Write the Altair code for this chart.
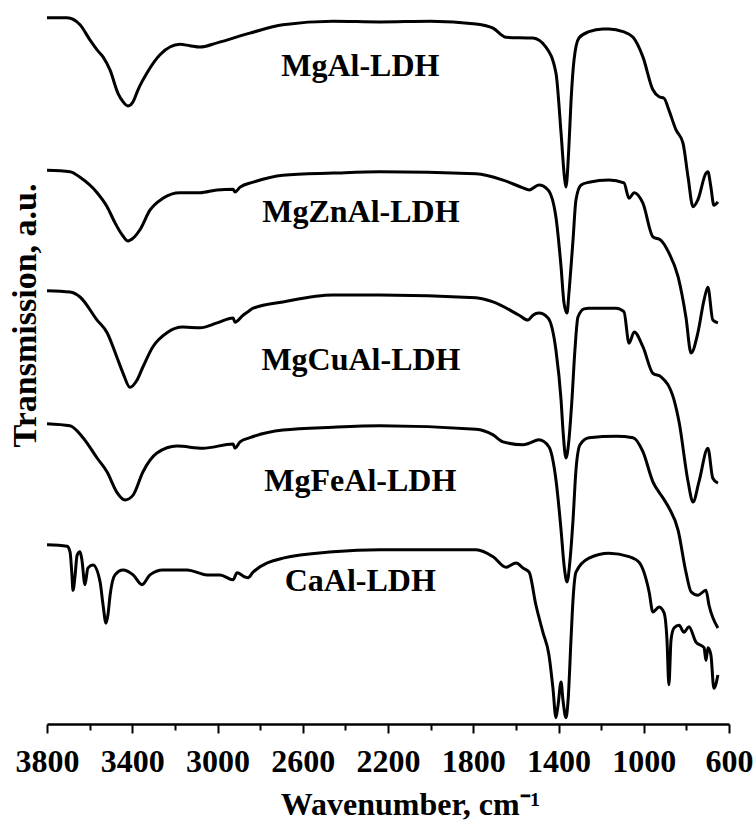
import altair as alt
import pandas as pd

# ---- data ----
series_names = ["MgAl-LDH", "MgZnAl-LDH", "MgCuAl-LDH", "MgFeAl-LDH", "CaAl-LDH"]

mgal_wn = [3800, 3706, 3645, 3598, 3565, 3537, 3504, 3467, 3443, 3420, 3396, 3373, 3331, 3270, 3176,
           3130, 3082, 3002, 2848, 2693, 2458, 2238, 2000, 1787, 1707, 1646, 1520, 1459, 1412, 1388,
           1372, 1365, 1352, 1341, 1327, 1304, 1257, 1191, 1163, 1097, 1050, 1004, 957, 928, 905, 882, 849,
           816, 792, 769, 746, 708, 699, 685, 671, 652]
mgal_t = [100.9, 100.9, 99.9, 97.7, 96.3, 95.3, 93.4, 90.1, 88.9, 88.3, 88.9, 90.6, 93.0, 95.6, 97.1,
          96.9, 96.7, 97.3, 98.7, 99.9, 100.4, 100.3, 100.4, 100.0, 99.4, 98.1, 98.0, 96.7, 93.0, 84.4,
          78.1, 76.7, 82.0, 89.1, 94.9, 98.0, 98.9, 99.3, 99.3, 98.9, 98.1, 95.3, 90.6, 89.6, 89.4, 87.7, 84.9,
          83.0, 78.1, 73.9, 74.9, 78.7, 78.9, 76.7, 74.1, 74.6]

mgznal_wn = [3800, 3692, 3645, 3565, 3518, 3481, 3448, 3420, 3396, 3364, 3317, 3256, 3176, 3082, 3002,
             2927, 2918, 2894, 2833, 2693, 2458, 2238, 1787, 1660, 1567, 1538, 1492, 1449, 1412, 1388,
             1374, 1360, 1351, 1332, 1318, 1294, 1257, 1163, 1093, 1069, 1045, 1004, 957, 919, 882, 839,
             802, 778, 746, 717, 699, 676, 652]
mgznal_t = [79.1, 78.9, 78.1, 75.9, 73.9, 71.6, 69.9, 69.0, 69.4, 70.6, 73.4, 75.1, 75.9, 75.9, 76.3,
            76.4, 76.0, 76.7, 77.4, 78.4, 78.7, 78.9, 78.6, 77.7, 76.6, 76.3, 77.0, 76.3, 72.4, 65.3,
            60.1, 58.7, 61.6, 69.1, 74.9, 77.0, 77.4, 77.7, 77.3, 75.1, 75.9, 74.4, 69.6, 69.1, 67.3, 63.9,
            58.1, 53.0, 55.9, 60.6, 62.4, 57.7, 57.3]

mgcual_wn = [3800, 3692, 3645, 3565, 3518, 3472, 3443, 3411, 3378, 3350, 3303, 3237, 3162, 3082, 3002,
             2927, 2918, 2880, 2857, 2833, 2693, 2458, 2238, 1787, 1707, 1585, 1543, 1520, 1492, 1449,
             1412, 1388, 1379, 1365, 1351, 1337, 1323, 1309, 1280, 1257, 1130, 1093, 1069, 1045, 1004,
             957, 919, 858, 834, 792, 769, 741, 699, 676, 652]
mgcual_t = [61.9, 61.7, 61.0, 57.7, 55.9, 52.4, 50.1, 48.1, 49.1, 51.0, 53.9, 55.9, 56.7, 56.6, 57.3,
            58.0, 57.4, 58.4, 58.9, 59.4, 60.3, 61.3, 61.3, 60.9, 60.3, 58.4, 57.7, 58.4, 58.7, 58.0,
            53.4, 46.3, 42.0, 38.0, 40.6, 46.3, 53.4, 58.1, 59.3, 59.4, 59.4, 58.9, 54.4, 56.0, 53.9,
            50.1, 49.6, 46.3, 43.1, 34.6, 31.7, 34.6, 39.4, 35.1, 34.4]

mgfeal_wn = [3800, 3692, 3631, 3565, 3518, 3472, 3434, 3396, 3350, 3284, 3190, 3068, 2927, 2918, 2894,
             2848, 2693, 2458, 2238, 1787, 1707, 1660, 1567, 1538, 1492, 1445, 1412, 1388, 1374, 1360,
             1346, 1332, 1318, 1299, 1257, 1130, 1050, 1004, 957, 910, 882, 839, 802, 778, 746, 708,
             694, 652]
mgfeal_t = [42.9, 42.6, 40.9, 38.0, 36.0, 33.1, 32.0, 32.7, 36.0, 38.7, 39.7, 39.4, 40.0, 39.4, 40.3,
            40.9, 42.0, 42.4, 42.6, 42.1, 41.3, 40.3, 39.9, 40.1, 40.6, 39.6, 34.9, 27.7, 22.7, 20.3,
            23.4, 29.1, 36.3, 39.9, 40.9, 41.1, 40.9, 38.9, 34.6, 32.3, 30.9, 27.7, 21.7, 18.9, 18.4, 19.1,
            17.0, 13.7]

caal_wn = [3800, 3706, 3692, 3683, 3678, 3668, 3659, 3645, 3636, 3622, 3608, 3584, 3551, 3537, 3523,
           3514, 3504, 3481, 3443, 3396, 3354, 3317, 3256, 3143, 3049, 2988, 2927, 2908, 2871, 2857,
           2833, 2693, 2458, 2238, 1787, 1707, 1646, 1599, 1567, 1538, 1506, 1473, 1445, 1426, 1412,
           1402, 1388, 1379, 1365, 1355, 1341, 1332, 1318, 1257, 1163, 1069, 1022, 975, 957, 928, 905,
           891, 882, 872, 858, 834, 811, 788, 755, 717, 708, 699, 685, 671, 652]
caal_t = [25.6, 25.4, 24.6, 21.3, 19.1, 21.3, 24.1, 24.6, 23.4, 19.9, 22.3, 22.7, 20.3, 17.0, 14.4,
          15.6, 18.4, 21.3, 22.0, 21.3, 19.9, 21.3, 22.0, 22.0, 21.3, 21.3, 20.6, 21.6, 21.0, 20.9,
          21.7, 23.7, 24.6, 24.9, 24.9, 23.9, 22.4, 23.0, 22.3, 21.7, 17.0, 13.1, 9.9, 5.1, 0.9,
          2.7, 6.0, 3.4, 0.9, 3.4, 12.3, 17.7, 21.7, 23.7, 24.4, 23.9, 23.1, 18.9, 16.0, 16.7, 15.9,
          12.0, 5.6, 12.0, 13.7, 14.1, 13.1, 13.9, 11.7, 10.9, 9.1, 10.9, 9.9, 5.1, 7.0]

label_wn = [2330, 2327, 2327, 2330, 2330]
label_t = [92.6, 71.7, 50.6, 33.3, 19.0]

x_tick_values = list(range(3800, 599, -100))
x_domain = [3800, 600]
y_domain = [0, 102]

# ---- build tables ----
all_wn = [mgal_wn, mgznal_wn, mgcual_wn, mgfeal_wn, caal_wn]
all_t = [mgal_t, mgznal_t, mgcual_t, mgfeal_t, caal_t]
rows = []
for name, wns, ts in zip(series_names, all_wn, all_t):
    for w, t in zip(wns, ts):
        rows.append({"series": name, "wn": w, "t": t})
df = pd.DataFrame(rows)
labels_df = pd.DataFrame({"label": series_names, "wn": label_wn, "t": label_t})

FONT = "Liberation Serif"

x_enc = alt.X(
    "wn:Q",
    scale=alt.Scale(domain=x_domain, nice=False, zero=False),
    axis=alt.Axis(
        values=x_tick_values,
        format="d",
        labelExpr="(3800 - datum.value) % 400 === 0 ? datum.label : ''",
        labelOverlap=False,
        labelFlush=False,
        labelFont=FONT,
        labelFontSize=32,
        labelFontWeight="bold",
        labelColor="black",
        labelPadding=13,
        tickSize={"condition": {"test": "(3800 - datum.value) % 400 === 0", "value": 9}, "value": 6},
        tickWidth=2,
        tickColor="black",
        domainColor="black",
        domainWidth=2.5,
        grid=False,
        title="Wavenumber, cm⁻¹",
        titleFont=FONT,
        titleFontSize=32,
        titleFontWeight="bold",
        titleColor="black",
        titleX=363,
        titleY=90,
        titleBaseline="alphabetic",
        titleAlign="center",
    ),
)
y_enc = alt.Y(
    "t:Q",
    scale=alt.Scale(domain=y_domain, nice=False, zero=False),
    axis=alt.Axis(
        domain=False,
        ticks=False,
        labels=False,
        grid=False,
        title="Transmission, a.u.",
        titleFont=FONT,
        titleFontSize=34,
        titleFontWeight="bold",
        titleColor="black",
        titleAngle=-90,
        titleX=-12,
        titleY=305,
        titleBaseline="alphabetic",
        titleAlign="center",
    ),
)

lines = alt.Chart(df).mark_line(color="black", strokeWidth=3, interpolate="monotone").encode(
    x=x_enc, y=y_enc, detail="series:N"
)

texts = alt.Chart(labels_df).mark_text(
    font=FONT, fontSize=32, fontWeight="bold", color="black", align="center", baseline="alphabetic"
).encode(x=alt.X("wn:Q"), y=alt.Y("t:Q"), text="label:N")

chart = (
    alt.layer(lines, texts)
    .properties(
        width=682,
        height=714,
        padding={"left": 47, "top": 10, "right": 27, "bottom": 101},
        autosize="none",
        background="white",
    )
    .configure_view(stroke=None)
)

chart.save("out.html", embed_options={"renderer": "svg", "actions": False})
